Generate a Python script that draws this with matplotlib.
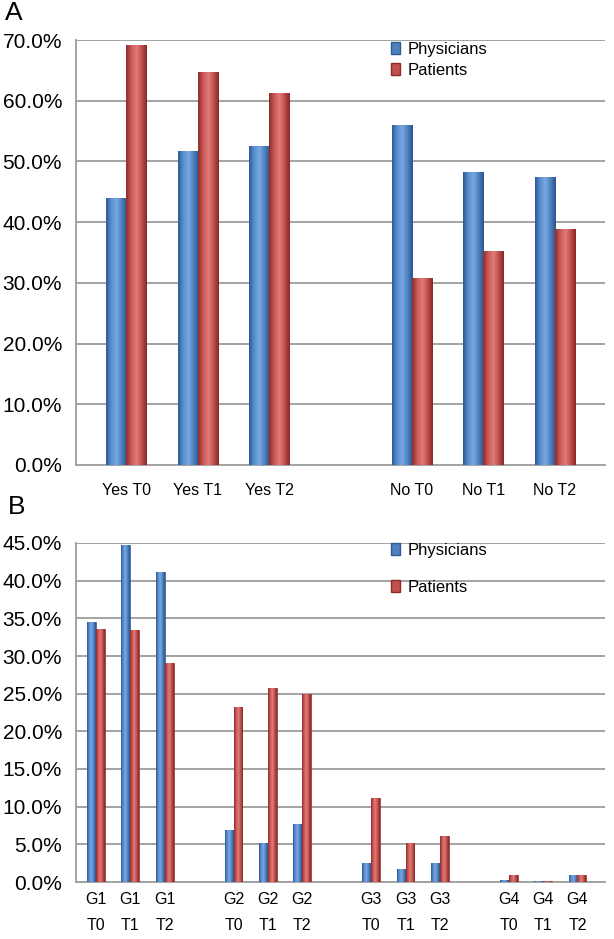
import matplotlib
matplotlib.use("Agg")
import matplotlib.pyplot as plt
import numpy as np
from matplotlib.patches import Patch
from matplotlib.colors import LinearSegmentedColormap
from matplotlib.ticker import FuncFormatter

plt.rcParams['font.family'] = ['Liberation Sans', 'DejaVu Sans']

# ---- Panel A data ----
cats_a = ["Yes T0", "Yes T1", "Yes T2", "", "No T0", "No T1", "No T2"]
phys_a = [44.0, 51.8, 52.6, np.nan, 56.0, 48.2, 47.4]
pat_a = [69.2, 64.8, 61.2, np.nan, 30.8, 35.2, 38.8]

# ---- Panel B data ----
cats_b = ["G1\nT0", "G1\nT1", "G1\nT2", "",
          "G2\nT0", "G2\nT1", "G2\nT2", "",
          "G3\nT0", "G3\nT1", "G3\nT2", "",
          "G4\nT0", "G4\nT1", "G4\nT2"]
phys_b = [34.5, 44.8, 41.2, np.nan, 6.9, 5.2, 7.7, np.nan, 2.5, 1.7, 2.5, np.nan, 0.3, 0.1, 0.9]
pat_b = [33.6, 33.5, 29.1, np.nan, 23.2, 25.8, 25.0, np.nan, 11.2, 5.2, 6.1, np.nan, 0.9, 0.1, 0.9]

series_names = ["Physicians", "Patients"]
blue = "#4F81BD"
red = "#C0504D"

cmap_blue = LinearSegmentedColormap.from_list("b", ["#2c5a94", "#5b8fd0", "#79a8e2", "#4f81bd", "#2a5590"])
cmap_red = LinearSegmentedColormap.from_list("r", ["#8e2c2a", "#cd5a57", "#e07c79", "#c0504d", "#862826"])

W, H = 614, 939
fig = plt.figure(figsize=(W / 100, H / 100), dpi=100)


def shade(ax, bars, cmap):
    grad = np.linspace(0, 1, 64).reshape(1, -1)
    for b in bars:
        h = b.get_height()
        if not np.isfinite(h) or h <= 0:
            continue
        x0 = b.get_x()
        w = b.get_width()
        im = ax.imshow(grad, cmap=cmap, aspect='auto', extent=(x0, x0 + w, 0, h),
                       zorder=b.get_zorder() + 0.1, interpolation='bilinear')
        im.set_clip_path(b)


def style(ax):
    ax.set_axisbelow(True)
    ax.yaxis.grid(True, color="#a3a3a3", lw=1.4)
    for s in ["top", "right"]:
        ax.spines[s].set_visible(False)
    ax.spines["left"].set_color("#a3a3a3")
    ax.spines["left"].set_linewidth(1.4)
    ax.spines["bottom"].set_color("#a3a3a3")
    ax.spines["bottom"].set_linewidth(1.4)
    ax.tick_params(axis='both', length=0)
    ax.yaxis.set_major_formatter(FuncFormatter(lambda v, p: f"{v:.1f}%"))


# ---- Panel A ----
axA = fig.add_axes([76 / W, 1 - 465 / H, 529 / W, 425 / H])
xa = np.arange(len(cats_a))
wa = 0.28
bA1 = axA.bar(xa - wa / 2, phys_a, wa, color=blue, edgecolor="#2c5a94", lw=0.6, zorder=3)
bA2 = axA.bar(xa + wa / 2, pat_a, wa, color=red, edgecolor="#8e2c2a", lw=0.6, zorder=3)
shade(axA, bA1, cmap_blue)
shade(axA, bA2, cmap_red)
axA.set_xlim(-0.7, 6.7)
axA.set_ylim(0, 70)
axA.set_yticks(np.arange(0, 71, 10))
axA.set_xticks(xa)
axA.set_xticklabels(cats_a, fontsize=11.5)
axA.tick_params(axis='x', pad=13)
axA.tick_params(axis='y', pad=10, labelsize=15)
style(axA)
axA.legend(handles=[Patch(facecolor=blue, edgecolor="#2c5a94"), Patch(facecolor=red, edgecolor="#8e2c2a")],
           labels=series_names, loc="upper left", bbox_to_anchor=(391 / W, 1 - 42 / H),
           bbox_transform=fig.transFigure, frameon=False, fontsize=12, handlelength=0.55,
           handleheight=0.7, handletextpad=0.45, labelspacing=0.35, borderpad=0, borderaxespad=0)
fig.text(5 / W, 1 - 13 / H, "A", fontsize=19, va="center", ha="left")

# ---- Panel B ----
axB = fig.add_axes([76 / W, 1 - 882 / H, 529 / W, 339 / H])
xb = np.arange(len(cats_b))
wb = 0.26
bB1 = axB.bar(xb - wb / 2, phys_b, wb, color=blue, edgecolor="#2c5a94", lw=0.5, zorder=3)
bB2 = axB.bar(xb + wb / 2, pat_b, wb, color=red, edgecolor="#8e2c2a", lw=0.5, zorder=3)
shade(axB, bB1, cmap_blue)
shade(axB, bB2, cmap_red)
axB.set_xlim(-0.58, 14.8)
axB.set_ylim(0, 45)
axB.set_yticks(np.arange(0, 46, 5))
axB.set_xticks(xb)
axB.set_xticklabels(cats_b, fontsize=11.5, linespacing=1.9)
axB.tick_params(axis='x', pad=7)
axB.tick_params(axis='y', pad=10, labelsize=15)
style(axB)
axB.legend(handles=[Patch(facecolor=blue, edgecolor="#2c5a94"), Patch(facecolor=red, edgecolor="#8e2c2a")],
           labels=series_names, loc="upper left", bbox_to_anchor=(391 / W, 1 - 543 / H),
           bbox_transform=fig.transFigure, frameon=False, fontsize=12, handlelength=0.55,
           handleheight=0.7, handletextpad=0.45, labelspacing=1.3, borderpad=0, borderaxespad=0)
fig.text(8 / W, 1 - 507 / H, "B", fontsize=19, va="center", ha="left")

fig.savefig("out.png", dpi=100)
